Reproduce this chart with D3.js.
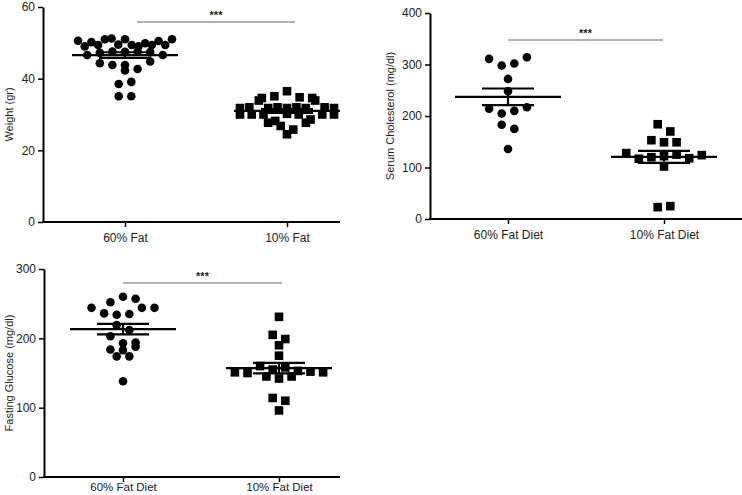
<!DOCTYPE html>
<html>
<head>
<meta charset="utf-8">
<script src="https://cdn.jsdelivr.net/npm/d3@7"></script>
<style>
  body { margin: 0; background: #fff; }
  text { font-family: "Liberation Sans", Arial, sans-serif; }
</style>
</head>
<body>
<div id="chart"></div>
<script>
// weight panel (values listed roughly left to right as they sit in the swarm)
const weightGroups = ['60% Fat', '10% Fat'];
const weightHigh = [50.6, 49.0, 50.2, 46.6, 49.4, 51.0, 47.2, 44.3, 42.3, 38.5, 47.6, 51.2, 49.5, 47.5, 39.1, 35.1,
  43.8, 51.0, 49.4, 47.6, 49.0, 43.8, 42.7, 35.1, 49.9, 47.4, 49.4, 44.8, 50.5, 49.4, 46.6, 51.0];
const weightLow = [31.8, 34.6, 30.0, 32.0, 30.0, 27.7, 33.9, 31.8, 32.0, 30.0, 26.8, 35.1, 36.5, 31.8, 28.2, 24.5,
  30.2, 34.8, 32.0, 30.0, 28.6, 25.8, 31.8, 33.9, 30.0, 27.7, 32.0, 34.6, 30.0, 31.8];
const weightTicks = [0, 20, 40, 60];

// cholesterol panel
const cholGroups = ['60% Fat Diet', '10% Fat Diet'];
const cholHigh = [311, 272, 214, 183, 298, 248, 205, 175, 136, 302, 210, 314, 217];
const cholLow = [128, 153, 117, 184, 149, 120, 170, 122, 102, 23, 125, 25, 118, 124, 149];
const cholTicks = [0, 100, 200, 300, 400];

// glucose panel
const glucGroups = ['60% Fat Diet', '10% Fat Diet'];
const glucHigh = [252, 244, 184, 260, 236, 219, 203, 174, 257, 234, 212, 193, 174, 138, 235, 194, 183, 244, 188, 244];
const glucLow = [151, 150, 160, 205, 145, 231, 190, 155, 142, 114, 96, 199, 175, 158, 153, 145, 110, 152, 151];
const glucTicks = [0, 100, 200, 300];

const W = 742, H = 495;
const svg = d3.select('#chart').append('svg')
  .attr('width', W)
  .attr('height', H);

const M = 8.6;      // marker size
const STEP = 12.6;  // horizontal spacing inside a row
const MAXHALF = 47; // widest a row may get
const ROWH = 8.6;   // rows are built from points this close in y

// prism-like scatter layout: group points into rows, spread each row around the centre
function scatterRows (values, yScale, cx) {
  const idx = values.map((v, i) => i).sort((a, b) => values[b] - values[a]);
  const rows = [];
  let cur = null;
  idx.forEach(function (i) {
    const y = yScale(values[i]);
    if (!cur || y - cur.start > ROWH) {
      cur = { start: y, items: [] };
      rows.push(cur);
    }
    cur.items.push(i);
  });
  const out = new Array(values.length);
  rows.forEach(function (r) {
    const items = r.items.slice().sort((a, b) => a - b);
    const n = items.length;
    const half = (n - 1) / 2;
    const step = half > 0 ? Math.min(STEP, MAXHALF / half) : STEP;
    items.forEach(function (i, k) {
      out[i] = [cx + (k - half) * step, yScale(values[i])];
    });
  });
  return out;
}

function panel (cfg) {
  const g = svg.append('g');
  const y = d3.scaleLinear().domain([0, cfg.ticks[cfg.ticks.length - 1]]).range([cfg.y0, cfg.yTop]);
  const x = d3.scalePoint().domain(cfg.groups).range(cfg.xr);

  // y axis
  const ya = g.append('g')
    .attr('transform', 'translate(' + cfg.ax + ',0)')
    .call(d3.axisLeft(y).tickValues(cfg.ticks).tickSize(5).tickSizeOuter(0));
  ya.select('.domain').attr('stroke-width', 2);
  ya.selectAll('.tick line').attr('stroke-width', 1.5);
  ya.selectAll('text').attr('font-size', 12).attr('fill', '#222');

  // x axis
  const xa = g.append('g')
    .attr('transform', 'translate(0,' + cfg.y0 + ')')
    .call(d3.axisBottom(x).tickSize(5).tickSizeOuter(0));
  xa.select('.domain').remove();
  xa.append('line')
    .attr('x1', cfg.ax - 1).attr('x2', cfg.xEnd)
    .attr('stroke', '#000').attr('stroke-width', 2);
  xa.selectAll('.tick line').attr('stroke-width', 1.5);
  xa.selectAll('text').attr('font-size', cfg.lfs).attr('fill', '#222').attr('dy', cfg.ldy);

  // y title
  g.append('text')
    .attr('transform', 'translate(' + cfg.tx + ',' + ((cfg.y0 + cfg.yTop) / 2) + ') rotate(-90)')
    .attr('text-anchor', 'middle')
    .attr('dy', '0.35em')
    .attr('font-size', 11)
    .attr('fill', '#222')
    .text(cfg.title);

  // points
  [cfg.high, cfg.low].forEach(function (vals, gi) {
    const cx = x(cfg.groups[gi]);
    const pos = scatterRows(vals, y, cx);
    if (gi === 0) {
      g.selectAll(null).data(pos).enter().append('circle')
        .attr('cx', d => d[0]).attr('cy', d => d[1])
        .attr('r', M / 2).attr('fill', '#000');
    } else {
      g.selectAll(null).data(pos).enter().append('rect')
        .attr('x', d => d[0] - M / 2).attr('y', d => d[1] - M / 2)
        .attr('width', M).attr('height', M).attr('fill', '#000');
    }
    // mean and SEM
    const mean = d3.mean(vals);
    const sem = d3.deviation(vals) / Math.sqrt(vals.length);
    g.append('line')
      .attr('x1', cx - 53).attr('x2', cx + 53)
      .attr('y1', y(mean)).attr('y2', y(mean))
      .attr('stroke', '#000').attr('stroke-width', 2.2);
    [mean + sem, mean - sem].forEach(function (v) {
      g.append('line')
        .attr('x1', cx - 26).attr('x2', cx + 26)
        .attr('y1', y(v)).attr('y2', y(v))
        .attr('stroke', '#000').attr('stroke-width', 2.2);
    });
    g.append('line')
      .attr('x1', cx).attr('x2', cx)
      .attr('y1', y(mean + sem)).attr('y2', y(mean - sem))
      .attr('stroke', '#000').attr('stroke-width', 2.2);
  });

  // significance bar
  g.append('line')
    .attr('x1', cfg.sig[0]).attr('x2', cfg.sig[1])
    .attr('y1', cfg.sigY).attr('y2', cfg.sigY)
    .attr('stroke', '#666').attr('stroke-width', 1);
  g.append('text')
    .attr('x', (cfg.sig[0] + cfg.sig[1]) / 2)
    .attr('y', cfg.sigY - 3)
    .attr('text-anchor', 'middle')
    .attr('font-size', 11)
    .attr('font-weight', 'bold')
    .attr('fill', '#222')
    .text('***');
}

panel({
  groups: weightGroups, high: weightHigh, low: weightLow, ticks: weightTicks,
  title: 'Weight (gr)', ax: 43, y0: 222, yTop: 7, xr: [125, 287], xEnd: 340, tx: 9,
  sig: [137, 295], sigY: 22, ldy: '1.0em', lfs: 12
});
panel({
  groups: cholGroups, high: cholHigh, low: cholLow, ticks: cholTicks,
  title: 'Serum Cholesterol (mg/dl)', ax: 430, y0: 219, yTop: 13, xr: [508, 664], xEnd: 742, tx: 390,
  sig: [508, 663], sigY: 40, ldy: '1.0em', lfs: 12
});
panel({
  groups: glucGroups, high: glucHigh, low: glucLow, ticks: glucTicks,
  title: 'Fasting Glucose (mg/dl)', ax: 44, y0: 477, yTop: 269, xr: [123, 279], xEnd: 340, tx: 9,
  sig: [123, 282], sigY: 283, ldy: '0.5em', lfs: 11.5
});
</script>
</body>
</html>
